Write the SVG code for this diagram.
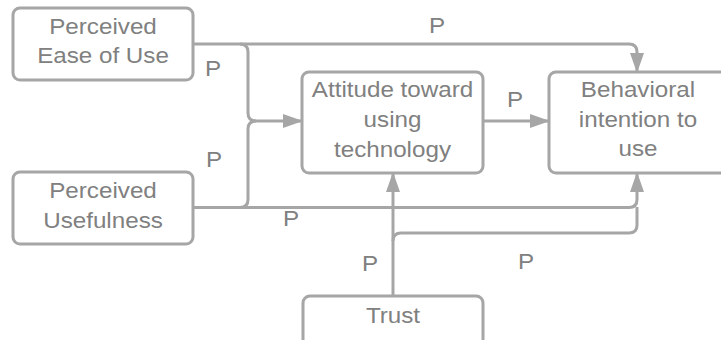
<svg xmlns="http://www.w3.org/2000/svg" width="721" height="340" viewBox="0 0 721 340">
  <style>
    .box { fill: #ffffff; stroke: #a6a6a6; stroke-width: 3; }
    .link { fill: none; stroke: #a6a6a6; stroke-width: 3; }
    .label { font-family: "Liberation Sans", Arial, sans-serif; font-size: 22px; fill: #808080; text-anchor: middle; }
  </style>
  <defs>
    <marker id="arrow" markerUnits="userSpaceOnUse" markerWidth="20" markerHeight="14" refX="19" refY="7" orient="auto">
      <path d="M0,0 L20,7 L0,14 z" fill="#a6a6a6"/>
    </marker>
  </defs>
  <rect width="721" height="340" fill="#ffffff"/>

  <!-- connectors -->
  <g id="connectors">
    <path class="link" d="M193,44 H629 Q637,44 637,52 V72" marker-end="url(#arrow)"/>
    <path class="link" d="M240,44 Q248,44 248,52 V113 Q248,121 256,121 H302" marker-end="url(#arrow)"/>
    <path class="link" d="M240,207.5 Q248,207.5 248,199.5 V129 Q248,121 256,121"/>
    <path class="link" d="M193,207.5 H629 Q637,207.5 637,199.5 V173" marker-end="url(#arrow)"/>
    <path class="link" d="M393,241 Q393,233 401,233 H629 Q637,233 637,225 V207"/>
    <path class="link" d="M393,296 V173" marker-end="url(#arrow)"/>
    <path class="link" d="M483,121 H549" marker-end="url(#arrow)"/>
    <g class="label">
      <text transform="translate(437,33) scale(1.1 1)">P</text>
      <text transform="translate(213,76) scale(1.1 1)">P</text>
      <text transform="translate(214,167) scale(1.1 1)">P</text>
      <text transform="translate(291,226) scale(1.1 1)">P</text>
      <text transform="translate(515,107) scale(1.1 1)">P</text>
      <text transform="translate(370,271) scale(1.1 1)">P</text>
      <text transform="translate(526,269) scale(1.1 1)">P</text>
    </g>
  </g>

  <!-- nodes -->
  <g id="peou">
    <rect class="box" x="13" y="8" width="180" height="72" rx="7"/>
    <text class="label" transform="translate(103,34) scale(1.1 1)"><tspan x="0">Perceived</tspan><tspan x="0" dy="29">Ease of Use</tspan></text>
  </g>
  <g id="pu">
    <rect class="box" x="13" y="172" width="180" height="72" rx="7"/>
    <text class="label" transform="translate(103,198) scale(1.1 1)"><tspan x="0">Perceived</tspan><tspan x="0" dy="30">Usefulness</tspan></text>
  </g>
  <g id="attitude">
    <rect class="box" x="302" y="72" width="181" height="101" rx="7"/>
    <text class="label" transform="translate(392.5,97) scale(1.1 1)"><tspan x="0">Attitude toward</tspan><tspan x="0" dy="30">using</tspan><tspan x="0" dy="30">technology</tspan></text>
  </g>
  <g id="intention">
    <rect class="box" x="549" y="72" width="185" height="101" rx="7"/>
    <text class="label" transform="translate(638,97) scale(1.1 1)"><tspan x="0">Behavioral</tspan><tspan x="0" dy="30">intention to</tspan><tspan x="0" dy="29">use</tspan></text>
  </g>
  <g id="trust">
    <rect class="box" x="303" y="296" width="180" height="52" rx="7"/>
    <text class="label" transform="translate(393,323) scale(1.1 1)">Trust</text>
  </g>
</svg>
